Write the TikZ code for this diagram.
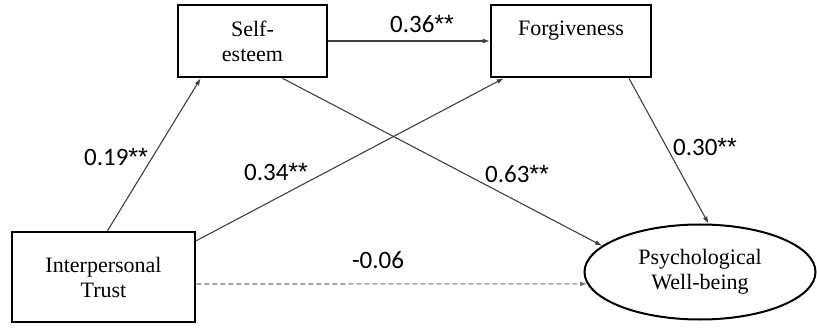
\documentclass[tikz,border=0pt]{standalone}
\usepackage{fontspec}
\setmainfont{Liberation Serif}
\newfontfamily\lblfont{Carlito}
\newfontfamily\starfont{Liberation Sans}
\newcommand\sig{{\starfont**}}
\usetikzlibrary{shapes.geometric,arrows.meta}
\tikzset{
  var/.style={draw, line width=2.6pt, inner sep=0pt, align=center, font=\fontsize{22}{25}\selectfont},
  link/.style={draw=black!75, line width=1.1pt, -{Latex[length=7pt,width=5pt]}},
  coef/.style={font=\lblfont\fontsize{25}{28}\selectfont, inner sep=0pt},
}
\begin{document}
\begin{tikzpicture}[x=1pt,y=-1pt]
  \useasboundingbox (0,0) rectangle (817,331);
  % variables
  \node[var, minimum width=149, minimum height=72] (self) at (252.5,41) {Self-\\esteem};
  \node[var, minimum width=160, minimum height=72] (forg) at (571,41) {Forgiveness\\\mbox{}};
  \node[var, minimum width=183, minimum height=90] (trust) at (103.5,277) {Interpersonal\\Trust};
  \node[var, ellipse, line width=2pt, minimum width=231, minimum height=95] (wb) at (700,272) {Psychological\\Well-being};
  % paths
  \draw[link] ([xshift=4]trust.north) -- ([xshift=24]self.south west);
  \draw[link] ([yshift=-10]trust.north east) -- ([xshift=14]forg.south west);
  \draw[link] (self.east) -- (forg.west);
  \draw[link] ([xshift=30]self.south) -- (wb.165);
  \draw[link] ([xshift=58]forg.south) -- (wb.80);
  \draw[link, draw=black!55, dash pattern=on 5pt off 3pt] ([yshift=-7]trust.east) -- (wb.186);
  % coefficients
  \node[coef] (c1) at (116,157) {0.19\sig};
  \node[coef] (c2) at (276,172) {0.34\sig};
  \node[coef] (c3) at (422,24) {0.36\sig};
  \node[coef] (c4) at (517,174) {0.63\sig};
  \node[coef] (c5) at (705,147) {0.30\sig};
  \node[coef] (c6) at (378,260) {-0.06};
\end{tikzpicture}
\end{document}
